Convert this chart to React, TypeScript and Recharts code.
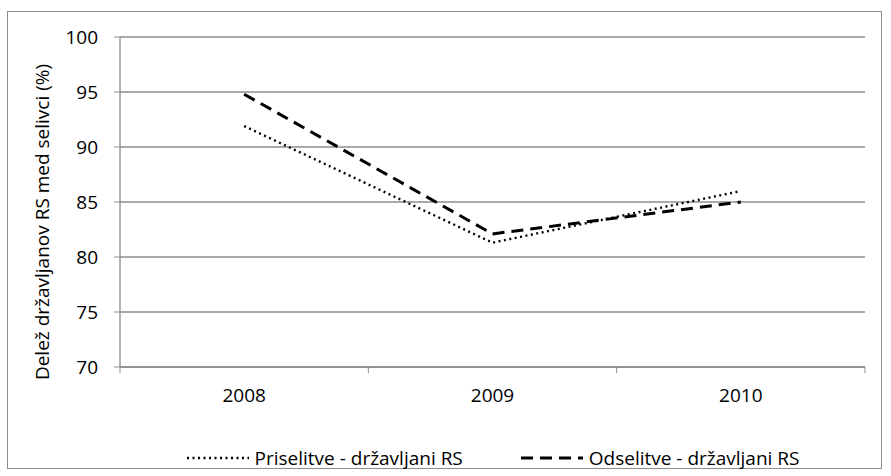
import { LineChart, Line, XAxis, YAxis, CartesianGrid, Legend } from "recharts";

const years = ["2008", "2009", "2010"];
const priselitve = [91.9, 81.3, 86.0];
const odselitve = [94.8, 82.1, 85.0];
const yTicks = [70, 75, 80, 85, 90, 95, 100];

const FONT = "'Open Sans', sans-serif";
const GRID = "#8c8c8c";

// points sit in the middle of each year band, ticks on band edges (Excel style)
const data = years.map((year, i) => ({
    pos: i + 0.5,
    year,
    pri: priselitve[i],
    ods: odselitve[i]
}));

const xTicks: number[] = [];
for (let i = 0; i <= years.length * 2; i++) xTicks.push(i / 2);

const series = [
    { key: "pri", name: "Priselitve - državljani RS", width: 2.4, dash: "2 3.5" },
    { key: "ods", name: "Odselitve - državljani RS", width: 3, dash: "12 7" }
];

const XTick = (props: any) => {
    const { x, y, payload } = props;
    const v = payload.value as number;
    if (Number.isInteger(v)) {
        return <line x1={x} y1={y} x2={x} y2={y + 6} stroke={GRID} strokeWidth={1} />;
    }
    return (
        <text x={x} y={y + 22} dy="0.71em" textAnchor="middle" fill="#000" fontFamily={FONT} fontSize={19}>
            {years[Math.floor(v)]}
        </text>
    );
};

const YLabel = (props: any) => {
    const vb = props.viewBox;
    const cx = 42;
    const cy = vb.y + vb.height / 2 + 20;
    return (
        <text
            x={cx}
            y={cy}
            transform={`rotate(-90 ${cx} ${cy})`}
            textAnchor="middle"
            dominantBaseline="central"
            fill="#000"
            fontFamily={FONT}
            fontSize={19}
        >
            Delež državljanov RS med selivci (%)
        </text>
    );
};

const renderLegend = () => (
    <div style={{ display: "flex", justifyContent: "center", gap: 58, fontFamily: FONT, fontSize: 19, color: "#000" }}>
        {series.map((s) => (
            <div key={s.key} style={{ display: "flex", alignItems: "center" }}>
                <svg width={64} height={10}>
                    <line x1={0} y1={5} x2={62} y2={5} stroke="#000" strokeWidth={s.width} strokeDasharray={s.dash} />
                </svg>
                <span style={{ marginLeft: 4 }}>{s.name}</span>
            </div>
        ))}
    </div>
);

export default function App() {
    return (
        <div style={{ position: "absolute", left: 0, top: 0, width: 891, height: 476, background: "#fff" }}>
            <div
                style={{
                    position: "absolute",
                    left: 7,
                    top: 11,
                    width: 875,
                    height: 458,
                    border: "1px solid #8c8c8c",
                    boxSizing: "border-box"
                }}
            />
            <LineChart width={891} height={476} data={data} margin={{ top: 37, right: 26, bottom: 33, left: 0 }}>
                <CartesianGrid vertical={false} stroke={GRID} strokeWidth={1.3} />
                <XAxis
                    dataKey="pos"
                    type="number"
                    domain={[0, years.length]}
                    ticks={xTicks}
                    interval={0}
                    tick={<XTick />}
                    tickLine={false}
                    tickSize={0}
                    tickMargin={0}
                    height={50}
                    axisLine={{ stroke: GRID, strokeWidth: 1.3 }}
                />
                <YAxis
                    domain={[70, 100]}
                    ticks={yTicks}
                    interval={0}
                    width={120}
                    tickSize={6}
                    tickMargin={16}
                    tickLine={{ stroke: GRID }}
                    axisLine={{ stroke: GRID, strokeWidth: 1.3 }}
                    tick={{ fill: "#000", fontFamily: FONT, fontSize: 19 }}
                    label={<YLabel />}
                />
                <Legend
                    content={renderLegend}
                    verticalAlign="bottom"
                    wrapperStyle={{ bottom: 5, left: 120, width: 746 }}
                />
                {series.map((s) => (
                    <Line
                        key={s.key}
                        dataKey={s.key}
                        name={s.name}
                        type="linear"
                        stroke="#000"
                        strokeWidth={s.width}
                        strokeDasharray={s.dash}
                        dot={false}
                        activeDot={false}
                        isAnimationActive={false}
                    />
                ))}
            </LineChart>
        </div>
    );
}
